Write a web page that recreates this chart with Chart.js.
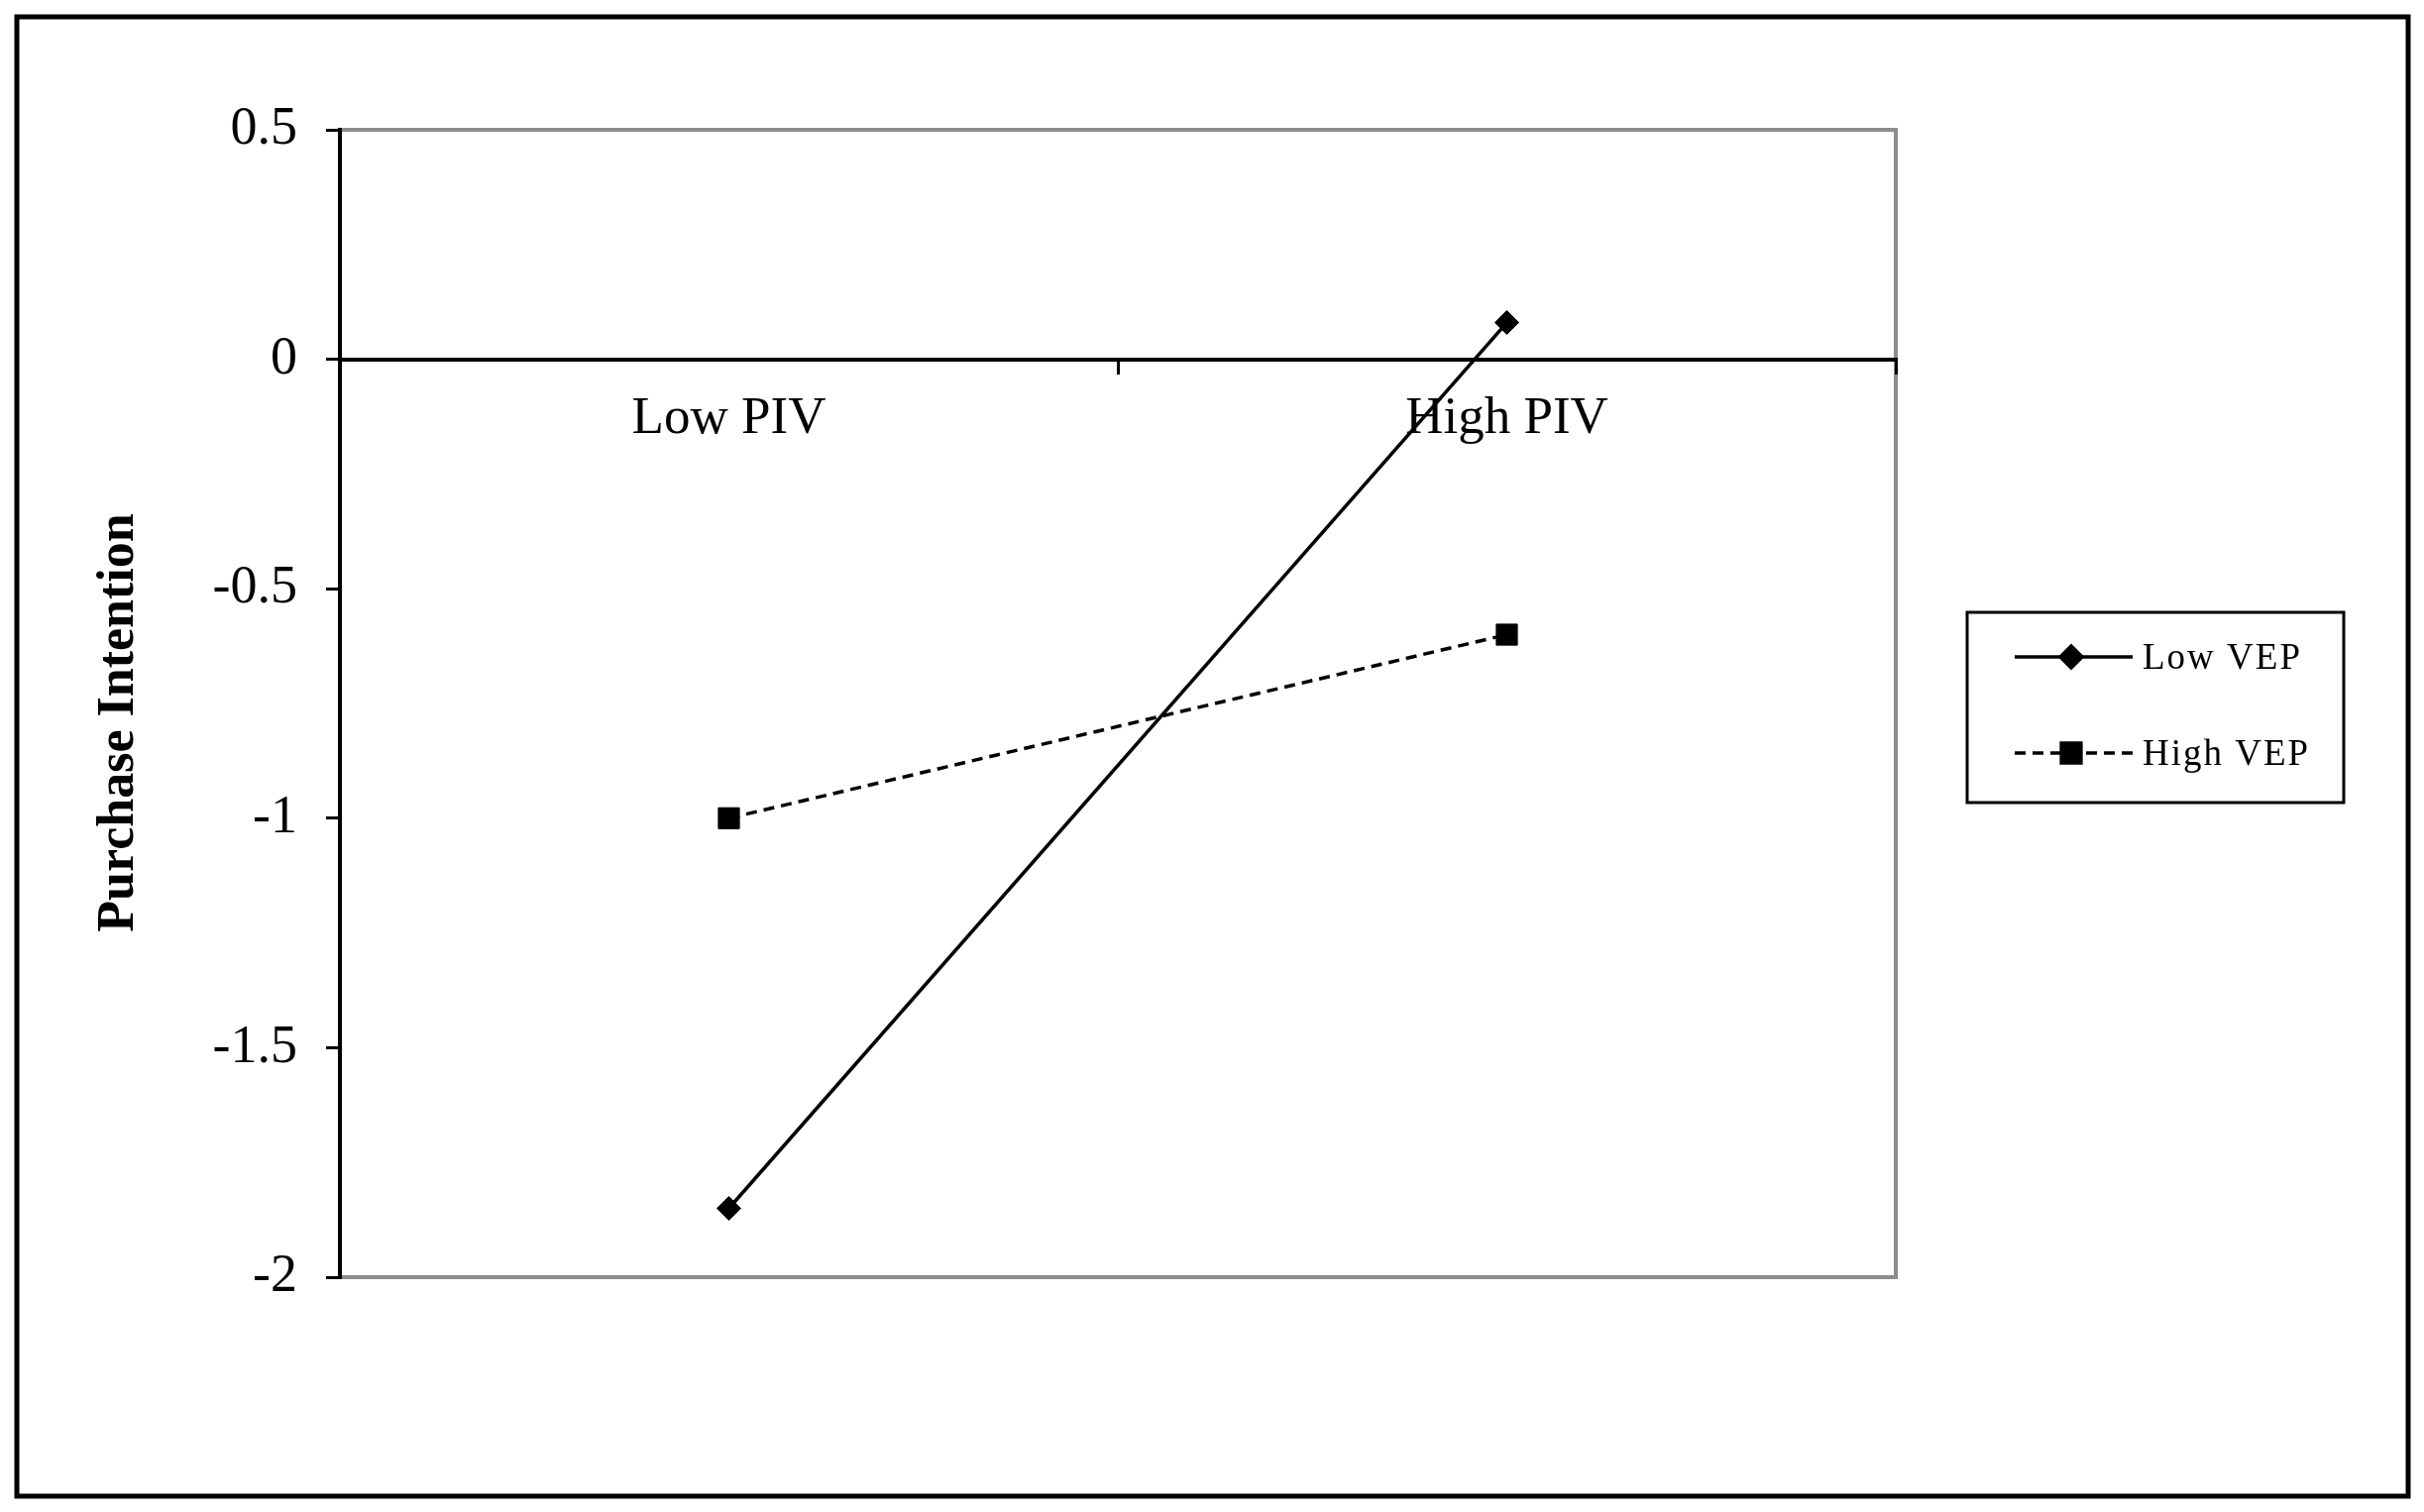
<!DOCTYPE html>
<html>
<head>
<meta charset="utf-8">
<script src="https://cdn.jsdelivr.net/npm/chart.js@4.4.1/dist/chart.umd.min.js"></script>
<style>
  html, body { margin: 0; padding: 0; background: #fff; }
  canvas { display: block; }
</style>
</head>
<body>
<canvas id="chart" width="2446" height="1526"></canvas>
<script>
const categories = ['Low PIV', 'High PIV']
const lowVEP = [-1.85, 0.08]
const highVEP = [-1.0, -0.6]
const seriesNames = ['Low VEP', 'High VEP']
const yMin = -2
const yMax = 0.5
const yStep = 0.5

const serif = "'Liberation Serif', 'Times New Roman', serif"

// outer frame + grey plot box
const framePlugin = {
  id: 'frame',
  beforeDraw(chart) {
    const ctx = chart.ctx
    const a = chart.chartArea
    ctx.save()
    ctx.fillStyle = '#fff'
    ctx.fillRect(0, 0, chart.width, chart.height)
    ctx.strokeStyle = '#000'
    ctx.lineWidth = 5
    ctx.strokeRect(17, 17, 2413, 1493)
    ctx.strokeStyle = '#8c8c8c'
    ctx.lineWidth = 4
    ctx.strokeRect(a.left, a.top, a.right - a.left, a.bottom - a.top)
    ctx.restore()
  }
}

// boxed legend with line + marker samples
const boxLegend = {
  id: 'boxLegend',
  afterDraw(chart) {
    const ctx = chart.ctx
    const box = { x: 1985, y: 618, w: 380, h: 192 }
    ctx.save()
    ctx.strokeStyle = '#000'
    ctx.lineWidth = 3
    ctx.strokeRect(box.x, box.y, box.w, box.h)
    const rows = [663, 760]
    chart.data.datasets.forEach((ds, i) => {
      const y = rows[i]
      ctx.strokeStyle = '#000'
      ctx.lineWidth = 3.5
      ctx.setLineDash(ds.borderDash || [])
      ctx.beginPath()
      ctx.moveTo(2033, y)
      ctx.lineTo(2152, y)
      ctx.stroke()
      ctx.setLineDash([])
      ctx.fillStyle = '#000'
      Chart.helpers.drawPoint(ctx, {
        pointStyle: ds.pointStyle,
        radius: ds.pointStyle === 'rect' ? 14 : 11,
        rotation: 0,
        borderWidth: 1
      }, 2090, y)
      ctx.font = '37px ' + serif
      ctx.letterSpacing = '2px'
      ctx.textBaseline = 'middle'
      ctx.textAlign = 'left'
      ctx.fillText(ds.label, 2162, y + 2)
    })
    ctx.restore()
  }
}

new Chart(document.getElementById('chart'), {
  type: 'line',
  data: {
    labels: categories,
    datasets: [{
      label: seriesNames[0],
      data: lowVEP,
      borderColor: '#000',
      backgroundColor: '#000',
      borderWidth: 3.5,
      pointStyle: 'rectRot',
      pointRadius: 12,
      pointBorderWidth: 1
    }, {
      label: seriesNames[1],
      data: highVEP,
      borderColor: '#000',
      backgroundColor: '#000',
      borderWidth: 3.5,
      borderDash: [11, 7],
      pointStyle: 'rect',
      pointRadius: 15,
      pointBorderWidth: 1
    }]
  },
  options: {
    responsive: false,
    devicePixelRatio: 1,
    animation: false,
    events: [],
    layout: {
      padding: { left: 0, top: 131, right: 533, bottom: 237 }
    },
    plugins: {
      legend: { display: false },
      tooltip: { enabled: false }
    },
    scales: {
      x: {
        type: 'category',
        position: { y: 0 },
        offset: true,
        border: { color: '#000', width: 4 },
        grid: {
          offset: true,
          drawOnChartArea: false,
          drawTicks: true,
          tickLength: 13,
          color: '#000',
          lineWidth: 3
        },
        ticks: {
          color: '#000',
          padding: 16,
          font: { family: serif, size: 53 }
        }
      },
      y: {
        min: yMin,
        max: yMax,
        afterFit(scale) { scale.width = 343 },
        border: { color: '#000', width: 4 },
        grid: {
          drawOnChartArea: false,
          drawTicks: true,
          tickLength: 14,
          color: '#000',
          lineWidth: 3
        },
        ticks: {
          stepSize: yStep,
          color: '#000',
          padding: 29,
          font: { family: serif, size: 54 },
          callback: v => String(v)
        },
        title: {
          display: true,
          text: 'Purchase Intention   ',
          color: '#000',
          padding: { top: 89, bottom: 0 },
          font: { family: serif, size: 52, weight: 'bold' }
        }
      }
    }
  },
  plugins: [framePlugin, boxLegend]
})
</script>
</body>
</html>
